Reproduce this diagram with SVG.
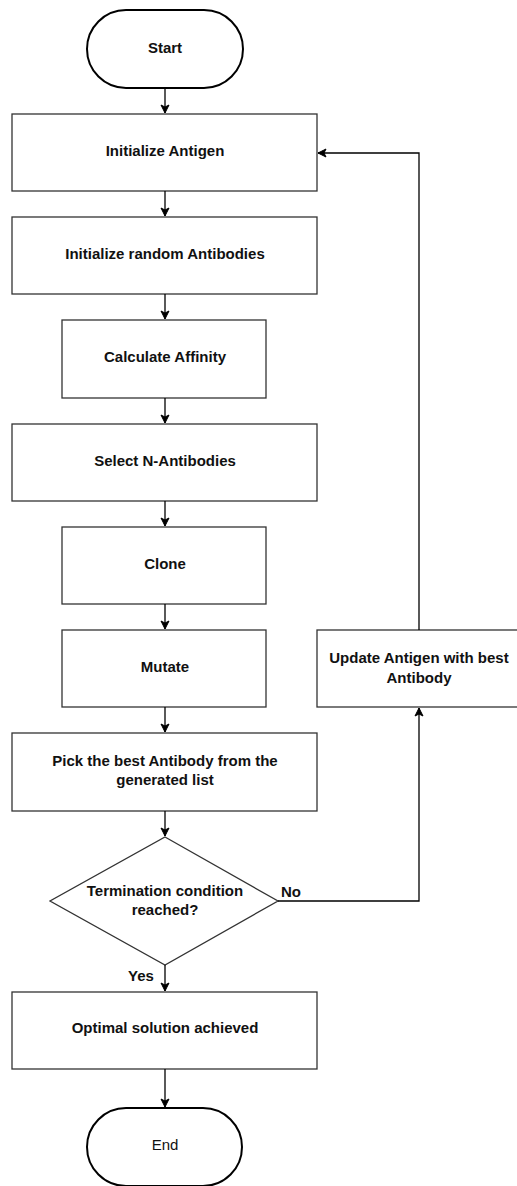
<svg xmlns="http://www.w3.org/2000/svg" width="517" height="1186" viewBox="0 0 517 1186">
<defs>
<marker id="arr" markerWidth="10" markerHeight="10" refX="9" refY="5" orient="auto" markerUnits="userSpaceOnUse">
<path d="M1,1 L9,5 L1,9 L3,5 Z" fill="#000" stroke="#000" stroke-width="1"/>
</marker>
<style>
.box{fill:#fff;stroke:#333;stroke-width:1.3}
.term{fill:#fff;stroke:#000;stroke-width:2}
.t{font-family:"Liberation Sans",Arial,sans-serif;font-size:15px;font-weight:bold;fill:#111;text-anchor:middle}
.n{font-weight:normal}
.c{fill:none;stroke:#000;stroke-width:1.3;marker-end:url(#arr)}
</style>
</defs>
<rect width="517" height="1186" fill="#fff"/>
<g id="start"><rect class="term" x="87" y="10" width="156" height="78" rx="39" ry="39"/><text class="t" x="165" y="53">Start</text></g>
<g id="init-antigen"><rect class="box" x="12" y="114" width="305" height="77"/><text class="t" x="165" y="156">Initialize Antigen</text></g>
<g id="init-antibodies"><rect class="box" x="12" y="217" width="305" height="77"/><text class="t" x="165" y="259">Initialize random Antibodies</text></g>
<g id="affinity"><rect class="box" x="62" y="320" width="204" height="78"/><text class="t" x="165" y="362">Calculate Affinity</text></g>
<g id="select"><rect class="box" x="12" y="424" width="305" height="77"/><text class="t" x="165" y="466">Select N-Antibodies</text></g>
<g id="clone"><rect class="box" x="62" y="527" width="204" height="77"/><text class="t" x="165" y="569">Clone</text></g>
<g id="mutate"><rect class="box" x="62" y="630" width="204" height="77"/><text class="t" x="165" y="672">Mutate</text></g>
<g id="pick"><rect class="box" x="12" y="733" width="305" height="78"/><text class="t" x="165" y="766">Pick the best Antibody from the</text><text class="t" x="165" y="785">generated list</text></g>
<g id="decision"><polygon class="box" points="165,837 278,901 165,965 50,901"/><text class="t" x="165" y="896">Termination condition</text><text class="t" x="165" y="915">reached?</text></g>
<g id="optimal"><rect class="box" x="12" y="992" width="305" height="77"/><text class="t" x="165" y="1033">Optimal solution achieved</text></g>
<g id="end"><rect class="term" x="87" y="1108" width="155" height="78" rx="39" ry="39"/><text class="t n" x="165" y="1150">End</text></g>
<g id="update"><rect class="box" x="317" y="630" width="205" height="77"/><text class="t" x="419" y="663">Update Antigen with best</text><text class="t" x="419" y="683">Antibody</text></g>
<g id="connectors">
<path class="c" d="M165,88 V113"/>
<path class="c" d="M165,191 V216"/>
<path class="c" d="M165,294 V319"/>
<path class="c" d="M165,398 V423"/>
<path class="c" d="M165,501 V526"/>
<path class="c" d="M165,604 V629"/>
<path class="c" d="M165,707 V732"/>
<path class="c" d="M165,811 V836"/>
<path class="c" d="M165,965 V991"/>
<path class="c" d="M165,1069 V1107"/>
<path class="c" d="M278,901 H419 V708"/>
<path class="c" d="M419,630 V153 H318"/>
<text class="t" x="291" y="897">No</text>
<text class="t" x="141" y="981">Yes</text>
</g>
</svg>
